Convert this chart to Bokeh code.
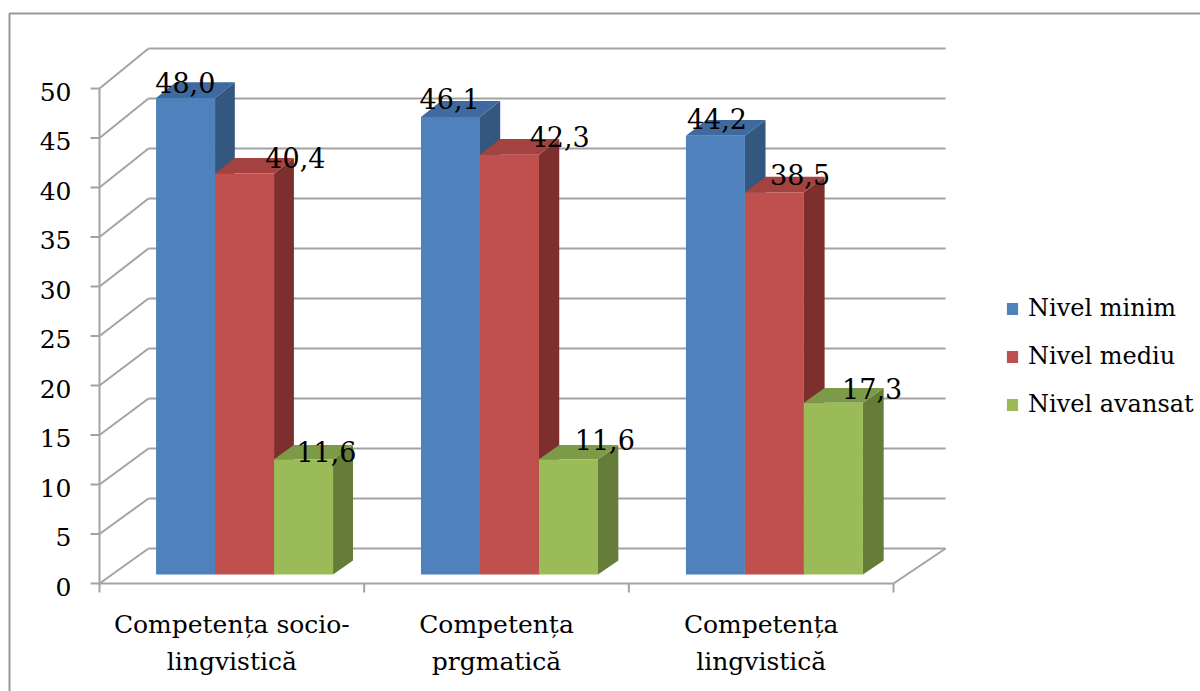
from bokeh.plotting import figure
from bokeh.models import Range1d, Legend, LegendItem
from bokeh.core.properties import value
from bokeh.embed import file_html
from bokeh.resources import INLINE

# ---- data -------------------------------------------------------------
categories = ["Competența socio-\nlingvistică", "Competența\nprgmatică", "Competența\nlingvistică"]
series_names = ["Nivel minim", "Nivel mediu", "Nivel avansat"]
nivel_minim = [48.0, 46.1, 44.2]
nivel_mediu = [40.4, 42.3, 38.5]
nivel_avansat = [11.6, 11.6, 17.3]
y_ticks = [0, 5, 10, 15, 20, 25, 30, 35, 40, 45, 50]

series_values = [nivel_minim, nivel_mediu, nivel_avansat]

# ---- styling ------------------------------------------------------------
front_colors = ["#4F81BD", "#C0504D", "#9BBB59"]
top_colors = ["#3F6A9F", "#A3423F", "#7D9A48"]
side_colors = ["#33577F", "#7D2F2D", "#657D39"]
grid_color = "#A3A3A3"
border_color = "#999999"
serif = "DejaVu Serif"

W, H = 1200, 691
# screen placement of the front plane of the 3-D box
PX0, CAT_W = 99.0, 264.67      # x of first category edge, pixels per category
PY0, VAL_H = 583.0, 9.9        # y of value 0, pixels per value unit
# depth of the box (back wall offset) expressed in data units
DEPTH_DX, DEPTH_DY = 49.0 / CAT_W, 35.0 / VAL_H
X_GROW, Y_GROW = 0.0039, 0.0101  # slight perspective growth towards the back

GAP = 0.166                       # gap on each side of a bar cluster
BAR_W = (1 - 2 * GAP) / 3
D_FRONT, D_BACK = 0.257, 0.657    # bar depth inside the box

# per-label nudges in pixels (dx, dy; dy positive = up)
label_nudge = [
    [(-20, 0), (-21, 3), (-19, 2)],
    [(31, 0), (30, 2), (5, 2)],
    [(3, -7), (16, 5), (18, 0)],
]


def proj(x, v, d):
    """Map a point of the box (category x, value v, depth d in 0..1) to data space."""
    return x * (1 + X_GROW * d) + DEPTH_DX * d, v * (1 + Y_GROW * d) + DEPTH_DY * d


def dx_px(px):
    return px / CAT_W


def dv_px(py):
    return py / VAL_H


def sx(px):
    return (px - PX0) / CAT_W


def sy(py):
    return (PY0 - py) / VAL_H


p = figure(
    width=W, height=H,
    x_range=Range1d(sx(0), sx(W)), y_range=Range1d(sy(H), sy(0)),
    output_backend="svg", toolbar_location=None, min_border=0,
    x_axis_location=None, y_axis_location=None,
)
p.grid.visible = False
p.outline_line_color = None
p.background_fill_color = "white"
p.border_fill_color = "white"

# outer chart border
p.line([sx(9), sx(9), sx(W + 5)], [sy(H + 5), sy(13), sy(13)],
       line_color=border_color, line_width=2)

# back wall gridlines and left side wall diagonals
n_cat = len(categories)
xs, ys = [], []
for t in y_ticks:
    bx0, by0 = proj(0, t, 1)
    bx1, by1 = proj(n_cat, t, 1)
    xs.append([bx0, bx1]); ys.append([by0, by1])
    fx, fy = proj(0, t, 0)
    xs.append([fx, bx0]); ys.append([fy, by0])
# floor front edge and right diagonal
fx0, fy0 = proj(0, 0, 0)
fx1, fy1 = proj(n_cat, 0, 0)
bx1, by1 = proj(n_cat, 0, 1)
xs.append([fx0, fx1]); ys.append([fy0, fy1])
xs.append([fx1, bx1]); ys.append([fy1, by1])
# vertical value axis
ax, ay = proj(0, y_ticks[-1], 0)
xs.append([fx0, ax]); ys.append([fy0, ay])
# value axis ticks
for t in y_ticks:
    tx, ty = proj(0, t, 0)
    xs.append([tx - dx_px(9), tx]); ys.append([ty, ty])
# category axis ticks
for k in range(n_cat + 1):
    tx, ty = proj(k, 0, 0)
    xs.append([tx, tx]); ys.append([ty, ty - dv_px(9)])
p.multi_line(xs, ys, line_color=grid_color, line_width=2)

# value axis labels
p.text(x=[proj(0, 0, 0)[0] - dx_px(28)] * len(y_ticks),
       y=[t - dv_px(3) for t in y_ticks],
       text=[str(t) for t in y_ticks],
       text_font=value(serif), text_font_size=value("25px"),
       text_align="right", text_baseline="middle", text_color="black")

# category labels
cx = [proj(i + 0.5, 0, 0)[0] for i in range(n_cat)]
p.text(x=cx, y=[sy(609)] * n_cat, text=categories,
       text_font=value(serif), text_font_size=value("25px"),
       text_align="center", text_baseline="top", text_line_height=1.28,
       text_color="black")

# 3-D bars
legend_items = []
lab_x, lab_y, lab_t = [], [], []
for j, vals in enumerate(series_values):
    side_xs, side_ys, top_xs, top_ys = [], [], [], []
    left, right, bottom, top = [], [], [], []
    for i, v in enumerate(vals):
        xl = i + GAP + j * BAR_W
        xr = xl + BAR_W
        pts = [proj(xr, 0, D_FRONT), proj(xr, v, D_FRONT), proj(xr, v, D_BACK), proj(xr, 0, D_BACK)]
        side_xs.append([q[0] for q in pts]); side_ys.append([q[1] for q in pts])
        pts = [proj(xl, v, D_FRONT), proj(xr, v, D_FRONT), proj(xr, v, D_BACK), proj(xl, v, D_BACK)]
        top_xs.append([q[0] for q in pts]); top_ys.append([q[1] for q in pts])
        l0, b0 = proj(xl, 0, D_FRONT)
        r0, t0 = proj(xr, v, D_FRONT)
        left.append(l0); right.append(r0); bottom.append(b0); top.append(t0)
        # value label sits on the back edge of the bar top
        mx, my = proj((xl + xr) / 2, v, D_BACK)
        ndx, ndy = label_nudge[j][i]
        lab_x.append(mx + dx_px(ndx)); lab_y.append(my + dv_px(ndy))
        lab_t.append(f"{v:.1f}".replace(".", ","))
    p.patches(side_xs, side_ys, fill_color=side_colors[j], line_color=None)
    p.patches(top_xs, top_ys, fill_color=top_colors[j], line_color=None)
    r = p.quad(left=left, right=right, bottom=bottom, top=top,
               fill_color=front_colors[j], line_color=None)
    legend_items.append(LegendItem(label=series_names[j], renderers=[r]))

p.text(x=lab_x, y=lab_y, text=lab_t,
       text_font=value(serif), text_font_size=value("27px"),
       text_align="center", text_baseline="alphabetic", text_color="black")

legend = Legend(
    items=legend_items, location=(1005, 271),
    label_text_font=serif, label_text_font_size="24px", label_text_color="black",
    glyph_width=14, glyph_height=15, label_standoff=9, label_height=32,
    spacing=16, padding=0, margin=0,
    border_line_color=None, background_fill_alpha=0,
)
p.add_layout(legend)

open("out.html", "w").write(file_html(p, INLINE))
